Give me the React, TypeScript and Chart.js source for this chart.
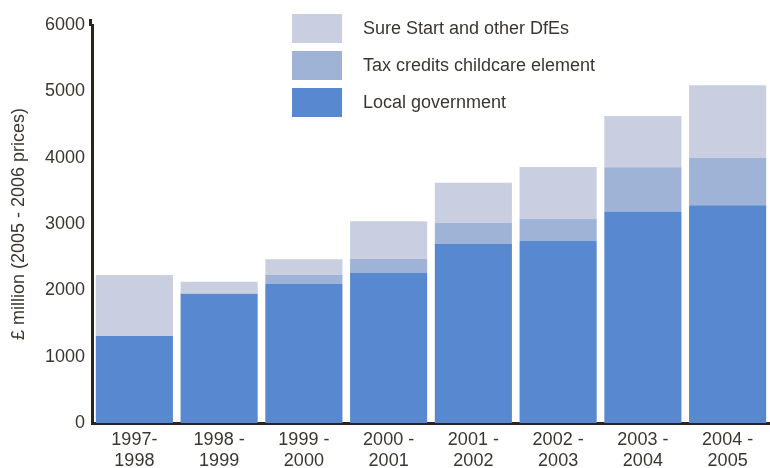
import React, { useEffect, useRef } from "react";
import { Chart, registerables } from "chart.js";

Chart.register(...registerables);

const categories: string[][] = [
  ["1997-", "1998"],
  ["1998 -", "1999"],
  ["1999 -", "2000"],
  ["2000 -", "2001"],
  ["2001 -", "2002"],
  ["2002 -", "2003"],
  ["2003 -", "2004"],
  ["2004 -", "2005"],
];

const localGovernment = [1312, 1950, 2096, 2262, 2700, 2745, 3187, 3283];
const taxCredits = [0, 0, 136, 212, 317, 336, 670, 714];
const sureStart = [920, 181, 237, 568, 603, 780, 773, 1096];

const yTicks = [0, 1000, 2000, 3000, 4000, 5000, 6000];

const seriesNames = ["Local government", "Tax credits childcare element", "Sure Start and other DfEs"];
const seriesColors = ["#5889D0", "#9FB3D7", "#C9CFE0"];

const FONT = "'Liberation Sans', Arial, Helvetica, sans-serif";
const TEXT = "#3b3630";
const AXIS = "#2b2519";

const legendPlugin = {
  id: "customLegend",
  afterDraw(chart: any) {
    const ctx = chart.ctx;
    const area = chart.chartArea;
    ctx.save();
    // small extension of the y-axis line above the top tick
    ctx.strokeStyle = AXIS;
    ctx.lineWidth = 3;
    ctx.beginPath();
    ctx.moveTo(area.left - 1.5, area.top - 6);
    ctx.lineTo(area.left - 1.5, area.top + 1);
    ctx.stroke();

    const items = chart.data.datasets.slice().reverse();
    items.forEach((ds: any, i: number) => {
      const y = 14 + i * 37;
      ctx.fillStyle = ds.backgroundColor;
      ctx.fillRect(292, y, 50, 29);
      ctx.fillStyle = TEXT;
      ctx.font = `18px ${FONT}`;
      ctx.textBaseline = "middle";
      ctx.textAlign = "left";
      ctx.fillText(ds.label, 363, y + 15);
    });
    ctx.restore();
  },
};

export default function App() {
  const ref = useRef<HTMLCanvasElement>(null);

  useEffect(() => {
    if (!ref.current) return;
    const values = [localGovernment, taxCredits, sureStart];
    const chart = new Chart(ref.current, {
      type: "bar",
      data: {
        labels: categories,
        datasets: values.map((v, i) => ({
          label: seriesNames[i],
          data: v,
          backgroundColor: seriesColors[i],
          borderWidth: 0,
          barPercentage: 0.91,
          categoryPercentage: 1,
        })),
      },
      options: {
        animation: false,
        responsive: false,
        maintainAspectRatio: false,
        layout: { padding: { top: 25, right: 0, bottom: 0, left: 0 } },
        plugins: {
          legend: { display: false },
          tooltip: { enabled: false },
        },
        scales: {
          x: {
            stacked: true,
            grid: { display: false, drawTicks: false },
            border: { display: true, color: AXIS, width: 3 },
            ticks: {
              color: TEXT,
              font: { family: FONT, size: 18, lineHeight: 1.2 },
              padding: 6,
              maxRotation: 0,
              autoSkip: false,
            },
            afterFit: (s: any) => {
              s.height = 45;
            },
          },
          y: {
            stacked: true,
            min: 0,
            max: 6000,
            afterBuildTicks: (s: any) => {
              s.ticks = yTicks.map((v) => ({ value: v }));
            },
            grid: { display: false, drawTicks: false },
            border: { display: true, color: AXIS, width: 3 },
            ticks: {
              color: TEXT,
              font: { family: FONT, size: 18 },
              padding: 7,
              callback: (v: any) => String(v),
            },
            title: {
              display: true,
              text: "£ million (2005 - 2006 prices)",
              color: TEXT,
              font: { family: FONT, size: 18 },
              padding: { top: 8, bottom: 0 },
            },
            afterFit: (s: any) => {
              s.width = 92;
            },
          },
        },
      },
      plugins: [legendPlugin],
    });
    return () => chart.destroy();
  }, []);

  return (
    <div style={{ position: "absolute", left: 0, top: 0, width: 770, height: 468, background: "#fff" }}>
      <canvas ref={ref} width={770} height={468} style={{ width: 770, height: 468, display: "block" }} />
    </div>
  );
}
